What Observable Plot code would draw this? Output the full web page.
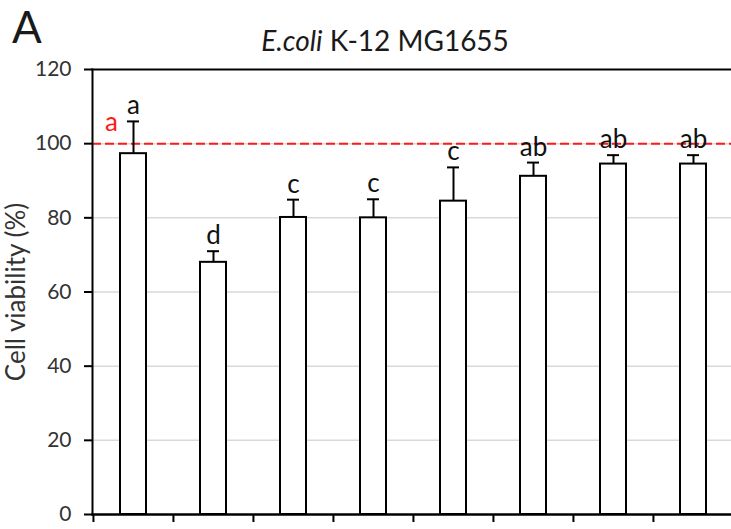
<!DOCTYPE html>
<html>
<head>
<meta charset="utf-8">
<script src="https://cdn.jsdelivr.net/npm/d3@7"></script>
<script src="https://cdn.jsdelivr.net/npm/@observablehq/plot@0.6"></script>
<style>
  html, body { margin: 0; padding: 0; background: #fff; }
  #wrap { width: 731px; height: 529px; position: relative; font-family: Lato, "Open Sans", sans-serif; color: #1a1a1a; }
  #header { position: relative; height: 50px; }
  #panel { position: absolute; left: 12px; top: 0px; font-size: 44px; line-height: normal; }
  #title { position: absolute; left: 0; width: 770px; top: 23px; text-align: center; font-size: 28px; line-height: normal; }
  #chart svg { display: block; }
  g[aria-label="y-axis label"] text { font-size: 26px; }
</style>
</head>
<body>
<div id="wrap">
  <div id="header">
    <div id="panel">A</div>
    <div id="title"><i>E.coli</i> K-12 MG1655</div>
  </div>
  <div id="chart"></div>
</div>
<script>
// ---- data ----
const categories = ["T1", "T2", "T3", "T4", "T5", "T6", "T7", "T8"];
const viability = [97.3, 68.0, 80.1, 80.0, 84.5, 91.2, 94.5, 94.5];
const errorSD   = [8.7, 3.0, 4.8, 5.0, 9.1, 3.7, 2.4, 2.4];
const letters   = ["a", "d", "c", "c", "c", "ab", "ab", "ab"];
const yTicks    = [0, 20, 40, 60, 80, 100, 120];
const controlValue = 100;
const controlLetter = "a";
const yLabel = "Cell viability (%)";

const data = categories.map((c, i) => ({
  cat: c, value: viability[i], upper: viability[i] + errorSD[i], letter: letters[i]
}));

const W = 731, H = 479, mL = 92, mR = -2, mT = 19, mB = 15;
const step = (W - mL - mR) / categories.length;

const chart = Plot.plot({
  width: W, height: H,
  marginLeft: mL, marginRight: mR, marginTop: mT, marginBottom: mB,
  style: { fontFamily: "Lato, 'Open Sans', sans-serif", color: "#1a1a1a", background: "#fff", overflow: "visible" },
  x: { type: "band", domain: categories, paddingInner: 0.675, paddingOuter: 0.3375, axis: null },
  y: { domain: [0, 120], axis: null },
  marks: [
    Plot.gridY(yTicks.filter(t => t > 0 && t < 120), { stroke: "#d9d9d9", strokeOpacity: 1, strokeWidth: 1.5 }),
    Plot.ruleY([controlValue], { stroke: "#ff1a1a", strokeWidth: 2, strokeDasharray: "9,4" }),
    Plot.barY(data, { x: "cat", y: "value", fill: "#fff", stroke: "#000", strokeWidth: 2 }),
    Plot.ruleX(data, { x: "cat", y1: "value", y2: "upper", stroke: "#000", strokeWidth: 2 }),
    Plot.tickY(data, { x: "cat", y: "upper", stroke: "#000", strokeWidth: 2, insetLeft: 7, insetRight: 7 }),
    Plot.text(data, { x: "cat", y: "upper", text: "letter", lineAnchor: "bottom", dy: -7, fontSize: 26, fill: "#111" }),
    Plot.text([controlLetter], { x: () => categories[0], y: () => controlValue, text: d => d, lineAnchor: "bottom", dx: -22, dy: -13, fontSize: 26, fill: "#ff1a1a" }),
    Plot.frame({ anchor: "top", stroke: "#000", strokeWidth: 2 }),
    Plot.frame({ anchor: "left", stroke: "#000", strokeWidth: 2 }),
    Plot.frame({ anchor: "bottom", stroke: "#000", strokeWidth: 2.5 }),
    Plot.axisY({
      ticks: yTicks, tickSize: 8, tickPadding: 13, fontSize: 21, strokeWidth: 2, stroke: "#000",
      label: yLabel, labelAnchor: "center", labelArrow: "none", labelOffset: 86, fill: "#333"
    }),
    Plot.axisX({ tickSize: 8, tickFormat: () => "", strokeWidth: 2, stroke: "#000", dx: -step / 2, label: null })
  ]
});
document.getElementById("chart").appendChild(chart);
</script>
</body>
</html>
